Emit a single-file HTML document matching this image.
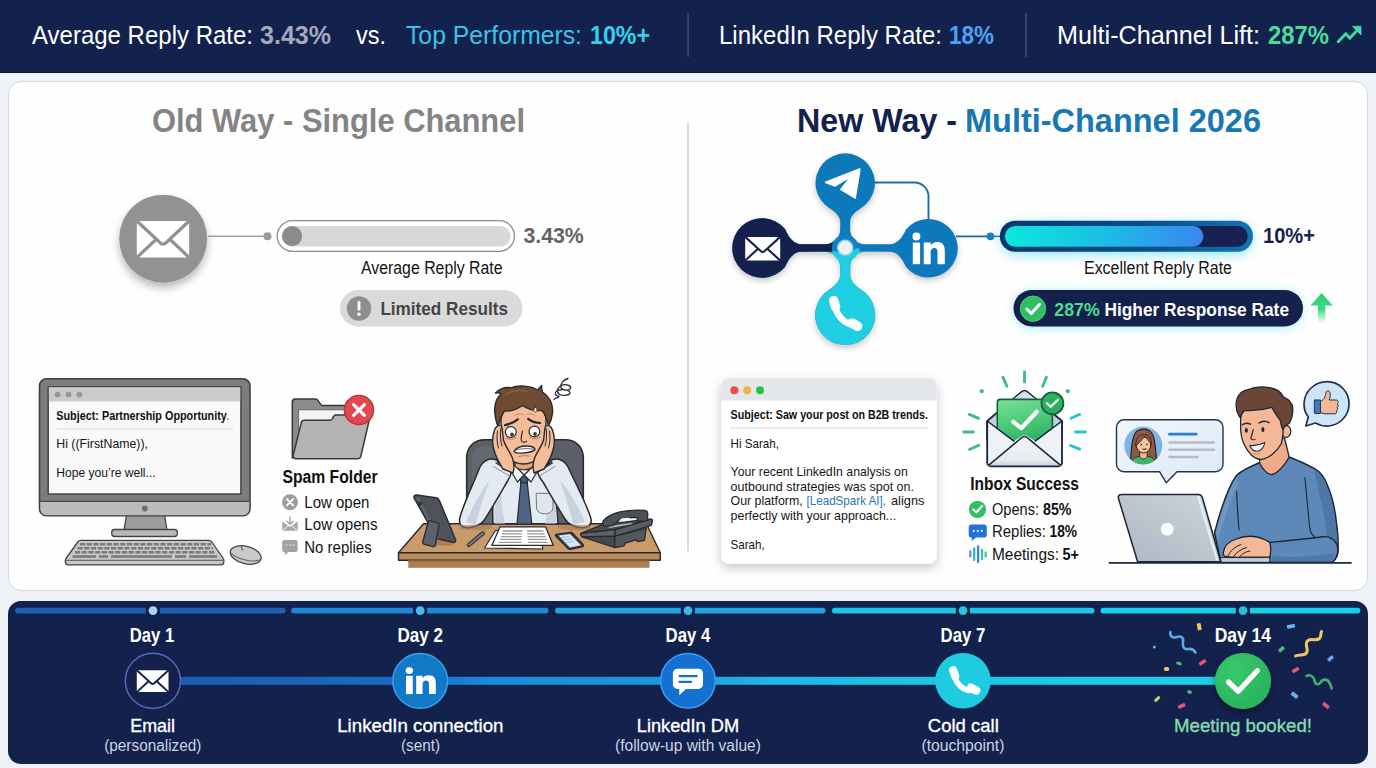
<!DOCTYPE html>
<html lang="en">
<head>
<meta charset="utf-8">
<title>Multi-Channel Outreach 2026</title>
<style>
html,body{margin:0;padding:0;}
body{width:1376px;height:768px;overflow:hidden;background:#eef1f5;font-family:"Liberation Sans",sans-serif;position:relative;}
#topbar{position:absolute;left:0;top:0;width:1376px;height:72px;background:#13214d;box-shadow:0 1px 0 #0a1233;}
#card{position:absolute;left:8px;top:81px;width:1358px;height:508px;background:#fefefe;border:1px solid #d3d9df;border-radius:13px;}
#timeline{position:absolute;left:8px;top:601px;width:1360px;height:163px;background:#13214d;border-radius:13px;}
#art{position:absolute;left:0;top:0;width:1376px;height:768px;}
text{font-family:"Liberation Sans",sans-serif;}
.b{font-weight:700;}
</style>
</head>
<body>
<div id="topbar"></div>
<div id="card"></div>
<div id="timeline"></div>
<svg id="art" width="1376" height="768" viewBox="0 0 1376 768">
<defs>
<filter id="sh1" x="-30%" y="-30%" width="160%" height="170%"><feGaussianBlur in="SourceAlpha" stdDeviation="4"/><feOffset dy="5"/><feComponentTransfer><feFuncA type="linear" slope="0.28"/></feComponentTransfer><feMerge><feMergeNode/><feMergeNode in="SourceGraphic"/></feMerge></filter>
<filter id="sh2" x="-30%" y="-30%" width="160%" height="170%"><feGaussianBlur in="SourceAlpha" stdDeviation="3"/><feOffset dy="3"/><feComponentTransfer><feFuncA type="linear" slope="0.22"/></feComponentTransfer><feMerge><feMergeNode/><feMergeNode in="SourceGraphic"/></feMerge></filter>
<filter id="sh3" x="-20%" y="-20%" width="140%" height="150%"><feGaussianBlur in="SourceAlpha" stdDeviation="5.500"/><feOffset dy="4"/><feComponentTransfer><feFuncA type="linear" slope="0.230"/></feComponentTransfer><feMerge><feMergeNode/><feMergeNode in="SourceGraphic"/></feMerge></filter>
<filter id="glow" x="-20%" y="-80%" width="140%" height="260%"><feGaussianBlur stdDeviation="6"/></filter>
<filter id="blur2"><feGaussianBlur stdDeviation="2"/></filter>
<linearGradient id="gfill" x1="0" x2="1" y1="0" y2="0"><stop offset="0" stop-color="#0ce8dc"/><stop offset="0.500" stop-color="#1cbde6"/><stop offset="1" stop-color="#3b86ef"/></linearGradient>
<linearGradient id="garrow" x1="0" x2="0" y1="0" y2="1"><stop offset="0" stop-color="#2ecc71"/><stop offset="0.55" stop-color="#3ddc84"/><stop offset="1" stop-color="#3ddc84" stop-opacity="0"/></linearGradient>
<linearGradient id="gcard" x1="0" x2="0.300" y1="0" y2="1"><stop offset="0" stop-color="#7be398"/><stop offset="1" stop-color="#27b05e"/></linearGradient>
<linearGradient id="genvb" x1="0" x2="0" y1="0" y2="1"><stop offset="0" stop-color="#f3f5f8"/><stop offset="0.800" stop-color="#e6eaef"/><stop offset="1" stop-color="#c9d3de"/></linearGradient>
<linearGradient id="glap" x1="0" x2="1" y1="1" y2="0"><stop offset="0" stop-color="#aeb8c3"/><stop offset="1" stop-color="#ccd3db"/></linearGradient>
<linearGradient id="gbub" x1="0" x2="1" y1="0" y2="1"><stop offset="0" stop-color="#f1f6fc"/><stop offset="1" stop-color="#dce9f8"/></linearGradient>
<clipPath id="cl-av"><circle cx="1143.300" cy="445.600" r="18.600"/></clipPath>
<linearGradient id="gconn" gradientUnits="userSpaceOnUse" x1="180" x2="1215" y1="0" y2="0"><stop offset="0" stop-color="#1c5cb0"/><stop offset="0.230" stop-color="#1a6cc4"/><stop offset="0.300" stop-color="#1b8ad8"/><stop offset="0.480" stop-color="#1e98de"/><stop offset="0.560" stop-color="#21b4e4"/><stop offset="0.750" stop-color="#1dc7e6"/><stop offset="1" stop-color="#1ccfe6"/></linearGradient>
<radialGradient id="ggreen" cx="0.350" cy="0.300" r="0.800"><stop offset="0" stop-color="#38c86f"/><stop offset="1" stop-color="#27b259"/></radialGradient>
<filter id="sh4" x="-30%" y="-30%" width="160%" height="170%"><feGaussianBlur in="SourceAlpha" stdDeviation="3"/><feOffset dy="3"/><feComponentTransfer><feFuncA type="linear" slope="0.450"/></feComponentTransfer><feMerge><feMergeNode/><feMergeNode in="SourceGraphic"/></feMerge></filter>
<linearGradient id="gring" x1="0" x2="1" y1="0" y2="0"><stop offset="0" stop-color="#07356b"/><stop offset="0.600" stop-color="#0b4f8c"/><stop offset="1" stop-color="#1274b2"/></linearGradient>
</defs>
<!--TOPBAR-->
<g id="g-topbar" font-size="25.600">
<text x="32" y="44.300" fill="#fff" textLength="221" lengthAdjust="spacingAndGlyphs">Average Reply Rate:</text>
<text x="260" y="44.300" fill="#a4aabb" class="b" textLength="71" lengthAdjust="spacingAndGlyphs">3.43%</text>
<text x="356" y="44.300" fill="#fff" textLength="30" lengthAdjust="spacingAndGlyphs">vs.</text>
<text x="406" y="44.300" fill="#3cc3e6" textLength="176" lengthAdjust="spacingAndGlyphs">Top Performers:</text>
<text x="590" y="44.300" fill="#2fd5f0" class="b" textLength="60" lengthAdjust="spacingAndGlyphs">10%+</text>
<rect x="687.5" y="13" width="1.2" height="44" fill="#3d5a8c"/>
<text x="719" y="44.300" fill="#fff" textLength="223" lengthAdjust="spacingAndGlyphs">LinkedIn Reply Rate:</text>
<text x="949" y="44.300" fill="#4ba4f2" class="b" textLength="45" lengthAdjust="spacingAndGlyphs">18%</text>
<rect x="1025.5" y="13" width="1.2" height="44" fill="#3d5a8c"/>
<text x="1057" y="44.300" fill="#fff" textLength="203" lengthAdjust="spacingAndGlyphs">Multi-Channel Lift:</text>
<text x="1268" y="44.300" fill="#4ade9a" class="b" textLength="61" lengthAdjust="spacingAndGlyphs">287%</text>
<path d="M1338.200 41.700 L1345.700 33.800 L1349.800 38.200 L1357 30.400" fill="none" stroke="#3fdba0" stroke-width="2.900" stroke-linecap="round" stroke-linejoin="miter"/><path d="M1352.400 26.300 L1361 26.300 L1361 35 Z" fill="#3fdba0" stroke="#3fdba0" stroke-width="0.800" stroke-linejoin="round"/>
</g>
<!--HEADINGS-->
<g id="g-head" font-size="32.600" class="b">
<text x="152" y="131.800" fill="#848484" textLength="373" lengthAdjust="spacingAndGlyphs">Old Way - Single Channel</text>
<text x="797" y="131.800" fill="#13214d" textLength="160" lengthAdjust="spacingAndGlyphs">New Way -</text>
<text x="965" y="131.800" fill="#1878b4" textLength="296" lengthAdjust="spacingAndGlyphs">Multi-Channel 2026</text>
</g>
<rect x="687" y="122.500" width="2" height="429" fill="#dcdcde"/>
<!--NETWORK-->
<g id="g-net">
<path d="M874 182.500 L914.500 182.500 A14 14 0 0 1 928.500 196.500 L928.500 220" fill="none" stroke="#1b70aa" stroke-width="1.900"/>
<rect x="956" y="235.500" width="36" height="1.800" fill="#126fae"/>
<clipPath id="cl-left"><path d="M720 200 L805 200 L805 232 L835 232 L835 264 L805 264 L805 300 L720 300 Z"/></clipPath>
<clipPath id="cl-bot"><path d="M831 251.700 L838 252.500 L852 250 L859 247.800 L860 251.600 L880 251.600 L880 350 L810 350 L810 251.700 Z"/></clipPath>
<path d="M830.300 208.750 C835 212 840.2 216 840.2 222 L840.2 229.20 C840.2 237.48 833.48 244.2 825.20 244.2 L801 244.2 C794 244.2 789 238 785 229 A29.800 29.800 0 1 0 785 267 C789 258 794 251.8 801 251.8 L825.20 251.8 C833.48 251.8 840.2 258.52 840.2 266.80 L840.2 275 C840.2 281 835 285.500 830.300 289 A30 30 0 1 0 860.100 289 C855.400 285.500 850.2 281 850.2 275 L850.2 266.80 C850.2 258.52 856.92 251.8 865.20 251.8 L890 251.8 C897 251.8 902 258 906 267 A29.300 29.300 0 1 0 906 229.500 C902 238 897 244.2 890 244.2 L865.20 244.2 C856.92 244.2 850.2 237.48 850.2 229.20 L850.2 222 C850.2 216 855.400 212 860.100 208.750 A29.700 29.700 0 1 0 830.300 208.750 Z" fill="#0f78ba" filter="url(#sh2)"/>
<path d="M830.300 208.750 C835 212 840.2 216 840.2 222 L840.2 229.20 C840.2 237.48 833.48 244.2 825.20 244.2 L801 244.2 C794 244.2 789 238 785 229 A29.800 29.800 0 1 0 785 267 C789 258 794 251.8 801 251.8 L825.20 251.8 C833.48 251.8 840.2 258.52 840.2 266.80 L840.2 275 C840.2 281 835 285.500 830.300 289 A30 30 0 1 0 860.100 289 C855.400 285.500 850.2 281 850.2 275 L850.2 266.80 C850.2 258.52 856.92 251.8 865.20 251.8 L890 251.8 C897 251.8 902 258 906 267 A29.300 29.300 0 1 0 906 229.500 C902 238 897 244.2 890 244.2 L865.20 244.2 C856.92 244.2 850.2 237.48 850.2 229.20 L850.2 222 C850.2 216 855.400 212 860.100 208.750 A29.700 29.700 0 1 0 830.300 208.750 Z" fill="#14214d" clip-path="url(#cl-left)"/>

<path d="M830.300 208.750 C835 212 840.2 216 840.2 222 L840.2 229.20 C840.2 237.48 833.48 244.2 825.20 244.2 L801 244.2 C794 244.2 789 238 785 229 A29.800 29.800 0 1 0 785 267 C789 258 794 251.8 801 251.8 L825.20 251.8 C833.48 251.8 840.2 258.52 840.2 266.80 L840.2 275 C840.2 281 835 285.500 830.300 289 A30 30 0 1 0 860.100 289 C855.400 285.500 850.2 281 850.2 275 L850.2 266.80 C850.2 258.52 856.92 251.8 865.20 251.8 L890 251.8 C897 251.8 902 258 906 267 A29.300 29.300 0 1 0 906 229.500 C902 238 897 244.2 890 244.2 L865.20 244.2 C856.92 244.2 850.2 237.48 850.2 229.20 L850.2 222 C850.2 216 855.400 212 860.100 208.750 A29.700 29.700 0 1 0 830.300 208.750 Z" fill="#1fcfe1" clip-path="url(#cl-bot)"/>
<circle cx="845.200" cy="247.800" r="13.300" fill="#1280c2"/>
<path d="M832.100 250.500 L838 252.500 L852 250.500 L858.500 247.800 A13.300 13.300 0 0 1 832.100 250.500 Z" fill="#1fcfe1"/>
<circle cx="845.200" cy="247.800" r="8.300" fill="#8fd3ea"/>
<circle cx="845.200" cy="247.800" r="6.800" fill="#eef2f5"/>
<!-- plane -->
<path d="M859.700 169.300 L825.800 182.400 L835.200 185.750 L851.900 175.500 L841.250 189.400 L855 197.700 Z" fill="#fff" stroke="#fff" stroke-width="2" stroke-linejoin="round"/>
<!-- mail -->
<rect x="745.200" y="236.900" width="35" height="23.500" rx="1" fill="#fff"/>
<path d="M744.900 236.600 L761 251.300 a2.600 2.600 0 0 0 3.400 0 L780.500 236.600 M744.900 260.700 L757.800 249 M780.500 260.700 L767.600 249" fill="none" stroke="#14214d" stroke-width="2.100" stroke-linejoin="round"/>
<!-- in -->
<g fill="#fff"><circle cx="916.400" cy="236.400" r="4"/><rect x="912.800" y="242.600" width="7.300" height="21.600"/>
<path d="M923.750 242.600 h6.900 v2.900 c1.300 -2.200 3.600 -3.500 6.600 -3.500 c5.300 0 7.550 3.300 7.550 8.700 v13.500 h-7.300 v-12 c0 -2.600 -0.900 -4.200 -3.200 -4.200 c-2.400 0 -3.650 1.700 -3.650 4.400 v11.800 h-6.900z"/></g>
<!-- phone -->
<g fill="none" stroke="#fff" stroke-linecap="round" stroke-linejoin="round"><path d="M833.700 300.500 L835.600 306.800" stroke-width="9.400"/><path d="M851.800 323 L857.600 326.200" stroke-width="9.600"/><path d="M834.800 305 C836.500 315.500 844.500 324.500 855.500 325.500" stroke-width="6.400"/></g>
</g>
<!--OLDBAR-->
<g id="g-oldbar">
<circle cx="163.200" cy="238.700" r="44" fill="#929292" filter="url(#sh1)"/>
<rect x="136.800" y="221" width="52.400" height="36.400" rx="1.500" fill="#fff"/>
<path d="M136.300 220.500 L160.500 243 a4 4 0 0 0 5.200 0 L189.700 220.500 M136.300 258 L155.500 240 M189.700 258 L170.700 240" fill="none" stroke="#929292" stroke-width="3.200" stroke-linejoin="round"/>
<circle cx="163.200" cy="238.700" r="44" fill="none" stroke="none"/>
<rect x="208" y="235.600" width="57" height="1.400" fill="#9a9a9a"/>
<circle cx="267.500" cy="236.300" r="4" fill="#9a9a9a"/>
<rect x="277.200" y="220.700" width="237.300" height="30.600" rx="15.300" fill="#fff" stroke="#8d8d8d" stroke-width="1.300"/>
<rect x="282" y="226" width="228.500" height="20.400" rx="10.200" fill="#d8d8d8"/>
<circle cx="292.100" cy="236.200" r="10.100" fill="#8b8b8b"/>
<text x="523.400" y="243.400" font-size="22" class="b" fill="#646464" textLength="60.400" lengthAdjust="spacingAndGlyphs">3.43%</text>
<text x="361" y="273.700" font-size="17.500" fill="#141414" textLength="141.500" lengthAdjust="spacingAndGlyphs">Average Reply Rate</text>
<rect x="340" y="290" width="182.500" height="36.600" rx="18.300" fill="#dadada"/>
<circle cx="359" cy="308.500" r="12.200" fill="#8e8e8e"/>
<rect x="357.600" y="301" width="2.800" height="9.500" rx="1.200" fill="#fff"/>
<circle cx="359" cy="314.300" r="1.700" fill="#fff"/>
<text x="380.400" y="315" font-size="18.500" class="b" fill="#454545" textLength="127.600" lengthAdjust="spacingAndGlyphs">Limited Results</text>
</g>
<!--NEWBAR-->
<g id="g-newbar">
<rect x="990" y="235.600" width="12" height="1.500" fill="#126fae"/>
<circle cx="990.500" cy="236.300" r="3.900" fill="#1a80bf"/>
<rect x="1001" y="223.500" width="251" height="31" rx="15.500" fill="#3fd6ee" opacity="0.600" filter="url(#glow)"/>
<rect x="999.800" y="220.700" width="253.200" height="31" rx="15.500" fill="url(#gring)"/>
<rect x="1004.900" y="225.900" width="242.800" height="20.800" rx="10.400" fill="#17204f"/>
<rect x="1004.900" y="225.900" width="198.500" height="20.800" rx="10.400" fill="url(#gfill)"/>
<text x="1263" y="243.400" font-size="22" class="b" fill="#14214c" textLength="52" lengthAdjust="spacingAndGlyphs">10%+</text>
<text x="1084" y="274.400" font-size="17.500" fill="#141414" textLength="148" lengthAdjust="spacingAndGlyphs">Excellent Reply Rate</text>
<rect x="1015" y="293" width="286" height="33" rx="16.500" fill="#22d3ee" opacity="0.550" filter="url(#glow)"/>
<rect x="1013.500" y="290" width="289.500" height="36.400" rx="18.200" fill="#14214d"/>
<circle cx="1033" cy="308.700" r="12.700" fill="#2fbf63"/>
<circle cx="1033" cy="308.700" r="12.700" fill="none" stroke="#5fe08f" stroke-width="1" opacity="0.700"/>
<path d="M1026.800 309 L1031.300 313.400 L1039.600 304.300" fill="none" stroke="#fff" stroke-width="3" stroke-linecap="round" stroke-linejoin="round"/>
<text x="1054.300" y="315.500" font-size="18.500" class="b" fill="#4ade8f" textLength="45.400" lengthAdjust="spacingAndGlyphs">287%</text>
<text x="1104.500" y="315.500" font-size="18.500" class="b" fill="#fff" textLength="184.500" lengthAdjust="spacingAndGlyphs">Higher Response Rate</text>
<path d="M1321.600 293 L1332.800 305.500 L1325.300 305.500 L1325.300 323 L1317.900 323 L1317.900 305.500 L1310.400 305.500z" fill="url(#garrow)"/>
</g>
<!--MONITOR-->
<g id="g-monitor">
<path d="M126.500 515 L164.500 515 L167 530 L124 530 Z" fill="#9c9c9c" stroke="#444" stroke-width="1.300" stroke-linejoin="round"/>
<rect x="111.700" y="529.500" width="65.700" height="7" rx="3" fill="#b9b9b9" stroke="#444" stroke-width="1.300"/>
<rect x="39.500" y="378.800" width="210.500" height="137" rx="7" fill="#7d7d7d" stroke="#3f3f3f" stroke-width="1.600"/>
<path d="M40.300 501.300 L249.200 501.300 L249.200 509 a6.200 6.200 0 0 1 -6.200 6.200 L46.500 515.200 a6.200 6.200 0 0 1 -6.200 -6.200 Z" fill="#bcbcbc"/>
<path d="M40.300 501.300 L249.200 501.300" stroke="#4a4a4a" stroke-width="1.200"/>
<circle cx="144.800" cy="508.500" r="2.900" fill="#6e6e6e"/>
<rect x="48.200" y="386.800" width="192.700" height="107.200" fill="#fafafa" stroke="#3f3f3f" stroke-width="1.400"/>
<rect x="48.900" y="387.500" width="191.300" height="14" fill="#cbcbcb"/>
<circle cx="57.600" cy="394.600" r="2.900" fill="#979797"/><circle cx="68.500" cy="394.600" r="2.900" fill="#979797"/><circle cx="79.400" cy="394.600" r="2.900" fill="#979797"/>
<text x="56.3" y="419.7" font-size="12.7" fill="#101010" class="b" textLength="170.5" lengthAdjust="spacingAndGlyphs">Subject: Partnership Opportunity</text>
<rect x="227.300" y="418.200" width="1.400" height="1.500" fill="#777"/>
<rect x="56.300" y="428.400" width="176.700" height="1" fill="#d4d4d4"/>
<text x="56.3" y="447.7" font-size="13.2" fill="#151515" textLength="91.7" lengthAdjust="spacingAndGlyphs">Hi ((FirstName)),</text>
<text x="56.3" y="477" font-size="13.2" fill="#151515" textLength="99.3" lengthAdjust="spacingAndGlyphs">Hope you’re well...</text>
<path d="M81 540.400 L208.600 540.400 a4 4 0 0 1 3.200 1.600 L223.300 558.500 a3 3 0 0 1 0.500 1.700 L223.800 562 a2.800 2.800 0 0 1 -2.800 2.800 L68.200 564.800 a2.800 2.800 0 0 1 -2.800 -2.800 L65.400 560.200 a3 3 0 0 1 0.500 -1.700 L77.800 542 a4 4 0 0 1 3.200 -1.600 Z" fill="#c6c6c6" stroke="#444" stroke-width="1.300" stroke-linejoin="round"/>
<path d="M66 560.300 L223.200 560.300" stroke="#555" stroke-width="1"/>
<g stroke="#7a7a7a" stroke-width="2.500" stroke-dasharray="5.200 1.500" fill="none"><path d="M80 544.300 L211 544.300"/><path d="M77.500 548.300 L213 548.300"/><path d="M75 552.300 L215 552.300"/></g>
<g stroke="#7a7a7a" stroke-width="2.600" fill="none"><path d="M72.500 556.500 L96 556.500 M99 556.500 L108 556.500 M111 556.500 L172 556.500 M175 556.500 L186 556.500 M189 556.500 L217 556.500"/></g>
<g transform="rotate(14 245.700 555)"><ellipse cx="245.700" cy="555" rx="15.800" ry="8.700" fill="#c9c9c9" stroke="#444" stroke-width="1.300"/><path d="M231 556.800 C238 561 253 561 260.500 556.500" fill="none" stroke="#666" stroke-width="1"/><path d="M239.500 547.800 L241.500 551.500" stroke="#666" stroke-width="1.200"/></g>
</g>
<!--SPAM-->
<g id="g-spam">
<path d="M292.300 402 a3 3 0 0 1 3 -3 L315.500 399 a3 3 0 0 1 2.400 1.300 L320.500 404.200 a3 3 0 0 0 2.400 1.300 L366.600 405.500 a3 3 0 0 1 3 3 L368.500 418 L292.300 458 Z" fill="#8b8b8b" stroke="#383838" stroke-width="1.500" stroke-linejoin="round"/>
<path d="M298.600 409.800 L352 409.800 L352 440 L298.600 440 Z" fill="#f4f4f4" stroke="#555" stroke-width="0.800"/>
<path d="M293.200 455.300 L301.300 422.600 a3.200 3.200 0 0 1 3.100 -2.400 L329.800 420.200 a3 3 0 0 0 2.300 -1.100 L333.800 416.200 a3 3 0 0 1 2.300 -1.100 L367 415.100 a2.700 2.700 0 0 1 2.600 3.400 L360.800 456.400 a3.200 3.200 0 0 1 -3.100 2.400 L296 458.800 a2.800 2.800 0 0 1 -2.800 -3.500 Z" fill="#b4b4b4" stroke="#383838" stroke-width="1.500" stroke-linejoin="round"/>
<circle cx="359" cy="410" r="14.600" fill="#e4474e" stroke="#b5343b" stroke-width="1.400"/>
<path d="M353.600 404.600 L364.400 415.400 M364.400 404.600 L353.600 415.400" stroke="#fff" stroke-width="3.100" stroke-linecap="round"/>
<text x="282.5" y="482.9" font-size="17.5" fill="#101010" class="b" textLength="95.1" lengthAdjust="spacingAndGlyphs">Spam Folder</text>
<circle cx="290" cy="502.200" r="8" fill="#9d9d9d"/>
<path d="M286.900 499.100 L293.100 505.300 M293.100 499.100 L286.900 505.300" stroke="#fff" stroke-width="1.900" stroke-linecap="round"/>
<text x="304.3" y="508" font-size="16.2" fill="#151515" textLength="65.1" lengthAdjust="spacingAndGlyphs">Low open</text>
<path d="M282.200 521.500 L290 527 L297.700 521.500 L297.700 530.800 L282.200 530.800 Z" fill="#a8a8a8"/>
<path d="M282.200 530.800 L288.200 525.700 M297.700 530.800 L291.800 525.700" stroke="#fff" stroke-width="0.900"/>
<path d="M290 516.800 L290 524 M287 521.300 L290 524.300 L293 521.300" fill="none" stroke="#a0a0a0" stroke-width="1.300" stroke-linecap="round" stroke-linejoin="round"/>
<text x="304.3" y="530.1" font-size="16.2" fill="#151515" textLength="73.3" lengthAdjust="spacingAndGlyphs">Low opens</text>
<path d="M284.700 540.100 h10.500 a2.500 2.500 0 0 1 2.500 2.500 v6.800 a2.500 2.500 0 0 1 -2.500 2.500 h-6.700 l-3.700 3.400 v-3.400 h-0.100 a2.500 2.500 0 0 1 -2.500 -2.500 v-6.800 a2.500 2.500 0 0 1 2.500 -2.500z" fill="#a2a2a2"/>
<path d="M285.500 545.200 h2 M289 545.200 h2 M292.500 545.200 h2" stroke="#d6d6d6" stroke-width="1.200"/>
<text x="304.3" y="552.6" font-size="16.2" fill="#151515" textLength="67.4" lengthAdjust="spacingAndGlyphs">No replies</text>
</g>
<!--DESKBASE-->
<g id="g-deskbase" stroke-linejoin="round">
<path d="M423.600 523.700 L646.400 523.700 L660.300 552.800 L398.500 552.800 Z" fill="#c99b6b" stroke="#2a2a2e" stroke-width="1.400"/>
<rect x="398.500" y="552.800" width="261.800" height="7.400" fill="#b98a5a" stroke="#2a2a2e" stroke-width="1.400"/>
<rect x="408.300" y="560.200" width="241.200" height="7.600" fill="#ad7f52"/>
<path d="M408.300 560.900 L649.500 560.900" stroke="#7a5535" stroke-width="1"/>
</g>
<!--DESKMAN-->
<g id="g-deskman" stroke-linejoin="round" stroke-linecap="round">
<path d="M466.700 523.700 L466.700 458 C466.700 447 474 439.800 485 439.800 L565 439.800 C576 439.800 583.300 447 583.300 458 L583.300 523.700 Z" fill="#5b6067" stroke="#2a2a2e" stroke-width="1.600"/>
<path d="M472 523.700 L472 460 C472 451 477 445.500 486 445.500 L500 445.500 L500 523.700 Z" fill="#6b7078" opacity="0.600"/>
<path d="M493 523.700 C492 505 493 485 500 468 L512 463 L536 463 L548 468 C555 485 557 505 558 523.700 Z" fill="#e4eaf1" stroke="#2a2a2e" stroke-width="1.500"/>
<path d="M495 523.700 C494 505 496 490 501 478 C500 495 502 510 505 523.700 Z" fill="#c3cedb" opacity="0.800"/>
<path d="M556 523.700 C557 505 555 490 549 478 C550 495 548 510 545 523.700 Z" fill="#c3cedb" opacity="0.800"/>
<path d="M536.500 493.300 L553 493.300 L553 507.500 C553 511.500 549 513.800 544.800 513.800 C540.500 513.800 536.500 511.500 536.500 507.500 Z" fill="#dfe6ee" stroke="#6a7480" stroke-width="1"/>
<path d="M519.500 474.500 L528.800 474.500 L527.300 483 L520.800 483 Z" fill="#435879" stroke="#2a2a2e" stroke-width="1.200"/>
<path d="M520.800 483 L527.300 483 L531.800 524 L517 524 Z" fill="#4d6485" stroke="#2a2a2e" stroke-width="1.200"/>
<path d="M513 463.500 L524 475 L517.500 482 L509.500 468.500 Z" fill="#f3f6fa" stroke="#2a2a2e" stroke-width="1.200"/>
<path d="M535.500 463.500 L524.300 475 L531 482 L539 468.500 Z" fill="#f3f6fa" stroke="#2a2a2e" stroke-width="1.200"/>
<path d="M504 466 C497 457 486 456 480 467 C474 482 463 505 459.800 518 C458 526 464 528.500 470 527.500 C477 526.500 482 524 485 519 C492 508 500 494 507 482 C510 477 511 474 511.500 471.500 L497.500 462 Z" fill="#e4eaf1" stroke="#2a2a2e" stroke-width="1.500"/>
<path d="M466 522 C472 508 480 492 490 480 C484 496 478 512 476 525 Z" fill="#c3cedb" opacity="0.850"/>
<path d="M496 463 L512 472.500" fill="none" stroke="#2a2a2e" stroke-width="1.200"/>
<path d="M493.500 466.500 L509.800 476.200" fill="none" stroke="#7f8a97" stroke-width="0.900"/>
<path d="M544 466 C551 457 562 456 568 467 C575 482 587 505 590.800 518 C593 526 586 528.500 580 527.500 C573 526.500 568 524 565 519 C558 508 550 494 543 482 C539 477 538 474 537.500 471.500 L551.500 462 Z" fill="#e4eaf1" stroke="#2a2a2e" stroke-width="1.500"/>
<path d="M585 522 C579 508 570 492 560 480 C565 496 571 512 573 525 Z" fill="#c3cedb" opacity="0.850"/>
<path d="M552.500 463 L537 472.500" fill="none" stroke="#2a2a2e" stroke-width="1.200"/>
<path d="M555 466.500 L539 476.200" fill="none" stroke="#7f8a97" stroke-width="0.900"/>
<path d="M515 455 L515 466 C519 471 529 471 533.500 466 L533.500 455 Z" fill="#e9a57c" stroke="#2a2a2e" stroke-width="1.200"/>
<path d="M501 420 C501 408 508 403 523.500 403 C539 403 546 408 546 420 L545.500 440 C544.500 455 535 464 523.500 464 C512 464 502.500 455 501.500 440 Z" fill="#f4bc98" stroke="#2a2a2e" stroke-width="1.400"/>
<path d="M497 424 C493 412 494 400 501 394 C499.500 392.500 497.500 392.500 495.500 393 C500 388.500 506 387 511 387.800 C519 384.500 531 386 538 390 C539.500 388 540.500 386.500 541.500 385.500 C541.500 388 541.800 390 542.500 392 C549 396 553.500 404 552.500 413 C552 419 550 423 548.500 425.500 C547 419 545 414 542 410.500 C536 411 528 409.500 522.500 405.500 C517 409.500 510 411.500 504.500 411 C502 414.500 500 419 498.500 425.500 Z" fill="#6f4b33" stroke="#2a2a2e" stroke-width="1.400"/>
<path d="M506 394 C512 390.500 520 390 527 391.500" fill="none" stroke="#8c6446" stroke-width="1.200"/>
<path d="M494.500 430 C492.500 436 492 444 494 450 C496 458 500 464 503 469 L513 473 C514.500 468 514 462 512 457 C509.500 451 505 446 503.500 440 C502.500 436 503 430 501.500 426 C499 424.500 496 426 494.500 430 Z" fill="#f4bc98" stroke="#2a2a2e" stroke-width="1.400"/>
<path d="M497.500 431 C496.500 437 497 443 498.500 448 M500.800 428.500 C500 435 500.500 441 502 446" fill="none" stroke="#2a2a2e" stroke-width="1"/>
<path d="M552.500 430 C554.500 436 555 444 553 450 C551 458 547 464 544 469 L534 473 C532.500 468 533 462 535 457 C537.500 451 542 446 543.500 440 C544.500 436 544 430 545.500 426 C548 424.500 551 426 552.500 430 Z" fill="#f4bc98" stroke="#2a2a2e" stroke-width="1.400"/>
<path d="M549.500 431 C550.500 437 550 443 548.500 448 M546.200 428.500 C547 435 546.500 441 545 446" fill="none" stroke="#2a2a2e" stroke-width="1"/>
<circle cx="510.800" cy="432" r="5.400" fill="#fff" stroke="#2a2a2e" stroke-width="1.200"/><circle cx="534.400" cy="431.500" r="5.400" fill="#fff" stroke="#2a2a2e" stroke-width="1.200"/>
<circle cx="512" cy="434.500" r="1.900" fill="#3a3a3a"/><circle cx="535" cy="434" r="1.900" fill="#3a3a3a"/>
<path d="M506 437.500 C509 439.500 513 439.500 516 437.500 M530 437 C533 439 537 439 540 437" fill="none" stroke="#b98a7a" stroke-width="1.300"/>
<path d="M505 425.200 C508.500 424.500 514 422.500 517.800 419.300 M528.200 418.800 C531.500 421.500 536 422.800 540.200 423" fill="none" stroke="#2a2a2e" stroke-width="2.200"/>
<path d="M515 415 C518 413.500 521 413.500 523 414.500 M527 414.500 C530 413.500 533 414 535 415.500" fill="none" stroke="#c98b68" stroke-width="1"/>
<path d="M522.500 431 C521.500 436 520.500 439 521.500 441 C522.500 442.500 525 442.500 526.500 441.500" fill="none" stroke="#2a2a2e" stroke-width="1.200"/>
<path d="M514 451.500 C516 447.500 522 446 527 446 C531 446 534 447 535 449 C534.500 451.500 531 452 527 452.500 C522 453 517 454.500 514 451.500 Z" fill="#fff" stroke="#2a2a2e" stroke-width="1.300"/>
<path d="M516 449.800 C521 448.500 529 448.200 534 449.200" fill="none" stroke="#2a2a2e" stroke-width="0.700"/>
<path d="M519 456.500 C522 455.500 526 455.500 529 456" fill="none" stroke="#b5734f" stroke-width="1"/>
<path d="M535.500 407 C536.800 409 537.500 410.300 536.500 411.600 C535.500 412.600 533.800 412 533.800 410.500 C533.800 409.300 534.800 408.300 535.500 407 Z" fill="#fff" stroke="#2a2a2e" stroke-width="0.800"/>
<path d="M554 399.500 C555.500 397 557.500 398.500 559 396.500 C554.500 395.500 554 392 558 390.500 C562 389 569 389.500 570 392.500 C571 395 563 396.500 559.500 394.500 C556 392.500 557 387.500 561.500 385.500 C566 383.500 571.500 385.500 570.500 388.500 C569.500 391 562 390.500 561 387.500 C560 384 563.500 379.500 568 378.500" fill="none" stroke="#2a2a2e" stroke-width="1.300"/>
</g>
<!--DESK-->
<g id="g-desk" stroke-linejoin="round" stroke-linecap="round">
<path d="M460 528.500 C470 531 485 531 492 528 L492 525 L460 525 Z" fill="#a77a50" opacity="0.600"/>
<path d="M590 528.500 C580 531 565 531 558 528 L558 525 L590 525 Z" fill="#a77a50" opacity="0.600"/>
<path d="M425 545.500 L452 545.500 L457 541.500 L440 539 Z" fill="#9a7450" opacity="0.700"/>
<path d="M414 497.800 C413.500 496 414.800 494.800 416.500 495 L436 497.800 C437.800 498 438.800 499 439.500 500.700 L455.500 539.500 C456.200 541.300 455 542.500 453.200 542.200 L438.500 539 C437 538.600 436.200 537.800 435.700 536.500 Z" fill="#4f5359" stroke="#2a2a2e" stroke-width="1.400"/>
<path d="M416.300 497.600 L419.300 497.900 L439.500 539 L436.500 538 Z" fill="#6a6f76" opacity="0.700"/>
<circle cx="420" cy="503.500" r="1.700" fill="#3a3d42" stroke="#2a2a2e" stroke-width="0.700"/>
<path d="M430.500 520.800 L437.800 523 C438.800 523.400 439.200 524.200 439 525.200 L435.300 545.300 C435 546.500 434.200 547 433 546.700 L424 544.200 C422.800 543.800 422.400 543 422.700 541.800 L428.200 522.300 C428.600 521 429.400 520.500 430.500 520.800 Z" fill="#5d6268" stroke="#2a2a2e" stroke-width="1.300"/>
<path d="M468.800 545 L482.800 533.400" stroke="#2a2a2e" stroke-width="4.200"/>
<path d="M468.800 545 L482.800 533.400" stroke="#77797d" stroke-width="2.200"/>
<path d="M495.500 530.500 L540 530.500 L542.800 549 L484.500 548 Z" fill="#fbfbfb" stroke="#2a2a2e" stroke-width="1.200"/>
<path d="M500 526.800 L545.500 526.800 L553.300 545.400 L491.800 545.400 Z" fill="#fff" stroke="#2a2a2e" stroke-width="1.300"/>
<g stroke="#9a9a9a" stroke-width="1.300"><path d="M503.500 531 L522 531 M502.500 533.800 L521.500 533.800 M501.500 536.600 L521.300 536.600 M500.500 539.400 L521 539.400 M499 542.300 L521 542.300"/><path d="M527.500 531 L543 531 M527.700 533.800 L544.200 533.800 M528 536.600 L545.300 536.600 M528.200 539.400 L546.500 539.400 M528.500 542.300 L547.500 542.300"/></g>
<path d="M556.300 534.300 L570.500 532.400 C571.500 532.300 572.200 532.600 572.900 533.300 L583.200 544.500 C584 545.500 583.700 546.400 582.500 546.800 L570.200 549.300 C569.200 549.500 568.400 549.200 567.700 548.400 L555.700 536.200 C554.900 535.200 555.200 534.500 556.300 534.300 Z" fill="#3d4046" stroke="#2a2a2e" stroke-width="1.200"/>
<path d="M558.500 535.500 L570 533.900 L581 545.300 L569.800 547.600 Z" fill="#d8e6f3"/>
<path d="M562 537.500 L569 536.500 M564 540 L572 538.800 M566.500 542.500 L573 541.500" stroke="#9fc0e0" stroke-width="1.100"/>
<path d="M614.800 536 L646.100 528.400 L644.500 540.300 L637.700 541.500 L636 539.800 L625 543.200 L624.100 545.800 L614.400 547.500 Z" fill="#52575d" stroke="#2a2a2e" stroke-width="1.300"/>
<path d="M582 536.800 L614.800 536 L614.400 547.500 Z" fill="#464a50" stroke="#2a2a2e" stroke-width="1.300"/>
<path d="M614.800 529.700 L650.400 519.100 C652 518.800 652.600 519.800 652.400 521 L651.800 524 C651.600 525 651 525.500 650 525.800 L614.800 536 Z" fill="#585d63" stroke="#2a2a2e" stroke-width="1.300"/>
<path d="M581.500 533.200 C580.300 533.600 580.300 535.500 581.500 536.300 L582 536.800 L614.800 536 L614.800 529.700 Z" fill="#5e6369" stroke="#2a2a2e" stroke-width="1.300"/>
<path d="M581.500 533.200 L603.400 524.200 L650.400 519.100 L614.800 529.700 Z" fill="#474b51" stroke="#2a2a2e" stroke-width="1.300"/>
<path d="M607.200 526.600 L630.900 522.900 L633 524 L609.500 528 Z" fill="#b4b8be"/>
<path d="M602.600 522.300 C604.500 518 612 513.500 620 511.800 C628 510.200 638 509.800 644.500 510.300 C647.300 510.500 647.900 512.300 647.800 514.300 L647.500 518.700 C647.400 520 646.600 520.700 645.200 520.900 L639.500 521.500 C638 521.600 637.300 520.700 637.200 519.300 L637 517.600 C631 517.200 624 518 619 520 L615 523.800 C613.500 525.300 610.500 526.300 607 526.300 C604 526.300 602 524.800 602.600 522.300 Z" fill="#4d5157" stroke="#2a2a2e" stroke-width="1.300"/>
<ellipse cx="625.200" cy="519.600" rx="5.300" ry="1.700" fill="#f4f4f4" transform="rotate(-6 625.200 519.600)"/>
</g>
<!--EMAILWIN-->
<g id="g-emailwin">
<rect x="721.300" y="378" width="215.300" height="185.800" rx="8" fill="#fff" filter="url(#sh3)"/>
<path d="M721.300 400.600 L721.300 386 a8 8 0 0 1 8 -8 L928.600 378 a8 8 0 0 1 8 8 L936.600 400.600 Z" fill="#e3e6ea"/>
<circle cx="734.400" cy="390.300" r="4" fill="#ee4b4b"/><circle cx="747.200" cy="390.300" r="4" fill="#f4b13e"/><circle cx="760" cy="390.300" r="4" fill="#27c24c"/>
<text x="730.6" y="419.4" font-size="12.6" fill="#101010" class="b" textLength="197.4" lengthAdjust="spacingAndGlyphs">Subject: Saw your post on B2B trends.</text>
<rect x="730.600" y="427.600" width="197.400" height="1" fill="#d5d8dc"/>
<text x="730.6" y="447.5" font-size="13.2" fill="#151515" textLength="48.4" lengthAdjust="spacingAndGlyphs">Hi Sarah,</text>
<text x="730.6" y="476.3" font-size="13.2" fill="#151515" textLength="177.2" lengthAdjust="spacingAndGlyphs">Your recent LinkedIn analysis on</text>
<text x="730.6" y="490.7" font-size="13.2" fill="#151515" textLength="183.4" lengthAdjust="spacingAndGlyphs">outbound strategies was spot on.</text>
<text x="730.6" y="505.3" font-size="13.2" fill="#151515" textLength="72" lengthAdjust="spacingAndGlyphs">Our platform,</text>
<text x="806.5" y="505.3" font-size="13.2" fill="#2a78b5" textLength="79.5" lengthAdjust="spacingAndGlyphs">[LeadSpark AI],</text>
<text x="891" y="505.3" font-size="13.2" fill="#151515" textLength="33.4" lengthAdjust="spacingAndGlyphs">aligns</text>
<text x="730.6" y="520" font-size="13.2" fill="#151515" textLength="165.6" lengthAdjust="spacingAndGlyphs">perfectly with your approach...</text>
<text x="730.6" y="549" font-size="13.2" fill="#151515" textLength="34.1" lengthAdjust="spacingAndGlyphs">Sarah,</text>
</g>
<!--INBOX-->
<g id="g-inbox">
<g fill="none" stroke-width="2.900" stroke-linecap="round">
<path d="M1024.500 372 L1024.500 382 M1003 377.300 L1006.900 386.200 M1046.400 377.300 L1042.700 386.200 M969.300 414.400 L978.600 418.300 M963.800 432 L973.400 432 M969.500 449.500 L978.800 445.300" stroke="#3dbf84"/>
<path d="M1071 418.300 L1079.600 414.400 M1075.500 432 L1085.500 432 M1070.500 445.500 L1079.600 449.200" stroke="#2cc3d0"/>
</g>
<circle cx="981.800" cy="391.200" r="2.100" fill="#3dbf84"/><circle cx="1067.800" cy="391.200" r="2.100" fill="#3dbf84"/>
<path d="M987.200 421 L1021.500 392 a4.500 4.500 0 0 1 6 0 L1062 421 L1062 440 L987.200 440 Z" fill="#c6d0dc" stroke="#17233f" stroke-width="1.700" stroke-linejoin="round"/>
<path d="M1005 406 L1021.500 392.800 a4.500 4.500 0 0 1 6 0 L1044 406 Z" fill="#d9e0e8"/>
<rect x="997.300" y="399.400" width="55.100" height="50" rx="3" fill="url(#gcard)" stroke="#12603a" stroke-width="1.600"/>
<path d="M1013.300 421.800 L1021.200 428.200 L1036.800 411.800" fill="none" stroke="#f4fff7" stroke-width="4.200" stroke-linecap="round" stroke-linejoin="round"/>
<path d="M987.200 421 L987.200 462.400 a4 4 0 0 0 4 4 L1058 466.400 a4 4 0 0 0 4 -4 L1062 421 L1035 441 L1027.500 436.300 a5 5 0 0 0 -6 0 L1014 441 Z" fill="#eef1f5"/>
<path d="M989 465.500 L1021.500 437.800 a4.500 4.500 0 0 1 6 0 L1060.300 465.500 Z" fill="url(#genvb)"/>
<path d="M987.200 421 L1014.300 441.300 M1062 421 L1034.800 441.300" fill="none" stroke="#17233f" stroke-width="1.500"/>
<path d="M988.500 465.300 L1021.500 437.800 a4.500 4.500 0 0 1 6 0 L1060.700 465.300" fill="none" stroke="#17233f" stroke-width="1.500" stroke-linejoin="round"/>
<path d="M987.200 421 L987.200 462.400 a4 4 0 0 0 4 4 L1058 466.400 a4 4 0 0 0 4 -4 L1062 421" fill="none" stroke="#17233f" stroke-width="1.800" stroke-linejoin="round"/>
<circle cx="1052.400" cy="403.400" r="11" fill="#2fae62" stroke="#12603a" stroke-width="1.700"/>
<path d="M1046.800 403.200 L1050.800 406.800 L1058 399.600" fill="none" stroke="#dff7e7" stroke-width="2.300" stroke-linecap="round" stroke-linejoin="round"/>
<text x="970.3" y="489.7" font-size="17.5" fill="#101010" class="b" textLength="108.7" lengthAdjust="spacingAndGlyphs">Inbox Success</text>
<circle cx="977.500" cy="509.300" r="8.600" fill="#2fbf63"/>
<path d="M973.300 509.500 L976.300 512.500 L982 506" fill="none" stroke="#fff" stroke-width="2.200" stroke-linecap="round" stroke-linejoin="round"/>
<text x="992" y="514.8" font-size="16.2" fill="#151515" textLength="47" lengthAdjust="spacingAndGlyphs">Opens:</text>
<text x="1043" y="514.8" font-size="16.2" fill="#101010" class="b" textLength="28.5" lengthAdjust="spacingAndGlyphs">85%</text>
<path d="M971.500 524.500 h12.500 a2.800 2.800 0 0 1 2.800 2.800 v7.400 a2.800 2.800 0 0 1 -2.800 2.800 h-8 l-4.200 3.600 v-3.600 h-0.300 a2.800 2.800 0 0 1 -2.800 -2.800 v-7.400 a2.800 2.800 0 0 1 2.800 -2.800z" fill="#2372d9"/>
<circle cx="973.800" cy="531" r="1.150" fill="#cfe3ff"/><circle cx="977.800" cy="531" r="1.150" fill="#cfe3ff"/><circle cx="981.800" cy="531" r="1.150" fill="#cfe3ff"/>
<text x="992" y="537.3" font-size="16.2" fill="#151515" textLength="54" lengthAdjust="spacingAndGlyphs">Replies:</text>
<text x="1049.5" y="537.3" font-size="16.2" fill="#101010" class="b" textLength="27.5" lengthAdjust="spacingAndGlyphs">18%</text>
<g stroke-linecap="round" stroke-width="2.300" fill="none"><path d="M970.300 551.500 v5" stroke="#6d8fdc"/><path d="M974.200 548.500 v11.500" stroke="#2fb7c9"/><path d="M978.100 546.500 v15.500" stroke="#3d7fe0"/><path d="M982 550 v9" stroke="#35c9a0"/><path d="M985.700 552.500 v4" stroke="#35c9a0"/></g>
<text x="992" y="559.5" font-size="16.2" fill="#151515" textLength="67" lengthAdjust="spacingAndGlyphs">Meetings:</text>
<text x="1062.5" y="559.5" font-size="16.2" fill="#101010" class="b" textLength="16.5" lengthAdjust="spacingAndGlyphs">5+</text>
</g>
<!--LAPTOPMAN-->
<g id="g-laptopman" stroke-linejoin="round" stroke-linecap="round">
<path d="M1124 419.800 L1215.500 419.800 a7.500 7.500 0 0 1 7.500 7.500 L1223 464.300 a7.500 7.500 0 0 1 -7.500 7.500 L1177 471.800 L1166.300 482.800 L1159.700 471.800 L1124 471.800 a7.500 7.500 0 0 1 -7.500 -7.500 L1116.500 427.300 a7.500 7.500 0 0 1 7.500 -7.500 Z" fill="url(#gbub)" stroke="#1e3550" stroke-width="1.400"/>
<circle cx="1143.300" cy="445.600" r="19" fill="#7db5e6"/>
<g clip-path="url(#cl-av)" stroke-linejoin="round">
<path d="M1130 466 C1131.500 452 1131 438 1135.500 432.500 C1139.500 428 1147.500 428 1151.500 432.500 C1156 438 1155.500 452 1157 466 Z" fill="#8b5b45" stroke="#251a16" stroke-width="1.100"/>
<path d="M1129.500 467 C1130 459 1135 456 1143.300 456 C1152 456 1157 459 1157.500 467 Z" fill="#3fb56c" stroke="#1b3a2a" stroke-width="1"/>
<path d="M1139.800 452 L1139.800 457 C1141.500 459.500 1145.500 459.500 1147.200 457 L1147.200 452 Z" fill="#f2b794" stroke="#251a16" stroke-width="0.800"/>
<ellipse cx="1143.500" cy="445" rx="7.300" ry="8" fill="#f7c3a2" stroke="#251a16" stroke-width="0.900"/>
<path d="M1135.800 446 C1135.500 438 1139 434.500 1144.500 434.500 C1149 434.500 1151.500 438 1151.300 444 C1149 441 1146.500 438.500 1144.500 436.200 C1142 440 1139 443.500 1135.800 446 Z" fill="#8b5b45" stroke="#251a16" stroke-width="0.700"/>
<circle cx="1141.300" cy="444.600" r="0.850" fill="#3a2a22"/><circle cx="1147" cy="444.300" r="0.850" fill="#3a2a22"/>
<path d="M1141.800 448.800 C1143.300 450.800 1146 450.600 1147.200 448.300 Z" fill="#8a3d36"/>
</g>
<path d="M1169.500 434.200 L1196.200 434.200" stroke="#2b7fd0" stroke-width="2.800"/>
<path d="M1169.500 442.400 L1214 442.400 M1169.500 449.700 L1214 449.700 M1169.500 457 L1197.500 457" stroke="#b3bcc7" stroke-width="2.500"/>
<path d="M1308.300 417 C1302 409 1302.500 396 1311 388 C1320 379.500 1334.500 379.500 1343 388.500 C1351.500 397.500 1351 411.500 1342 420 C1334.500 427 1323.500 428 1315.500 423 L1305.800 426 Z" fill="#cfe4f7" stroke="#1e3550" stroke-width="1.700"/>
<rect x="1314.300" y="400" width="6.500" height="13.500" rx="0.800" fill="#3b7cba" stroke="#1e3550" stroke-width="1"/>
<path d="M1320.800 401 C1323.500 400.500 1325.500 397 1326 392.500 C1326.200 390.300 1329.500 390.300 1330 392.800 C1330.500 395.500 1330 398 1329.300 400 L1336 400 C1338.500 400 1339 403 1337 403.800 C1338.800 404.500 1338.600 407 1336.800 407.500 C1338.200 408.300 1337.800 410.500 1336.200 411 C1337.200 412 1336.500 413.800 1334.800 413.800 L1325.500 413.800 C1323.500 413.800 1322 413.200 1320.800 412.500 Z" fill="#f5b896" stroke="#1e3550" stroke-width="1"/>
<path d="M1259.500 462.700 C1250 466.500 1242 470.500 1236.700 475.200 C1230 484 1224 500 1218.500 518.500 L1214.500 533 L1221 562.300 L1332.500 562.300 C1337 558 1338.500 553 1338.100 548.100 C1338.300 540 1338 534 1337 527.600 C1335.500 512 1332.500 497 1327.900 486.600 C1325 478 1321 472 1314.200 468.400 C1306 464 1297 460 1289.200 457 C1283 468 1266 470 1259.500 462.700 Z" fill="#5d88b7" stroke="#1b2738" stroke-width="1.500"/>
<path d="M1314.200 469.500 C1321 473 1324 479 1327 487 C1331.500 498 1334.500 513 1336 528 C1337 536 1337.200 544 1337 549 C1337.300 553 1336 557.500 1332 561.300 L1322 561.300 C1327 552 1328 540 1326 528 C1323 508 1318 490 1314.200 469.500 Z" fill="#4a74a2" opacity="0.850"/>
<path d="M1236.700 476.500 C1231 485 1225 501 1219.500 519 L1216 532 L1218 540 C1224 520 1231 498 1238 484 Z" fill="#7aa3cd" opacity="0.550"/>
<path d="M1305 477.500 C1306.500 495 1308 512 1309.700 527.600 C1310.500 532 1312 535 1314.200 536.700" fill="none" stroke="#1b2738" stroke-width="1.100"/>
<path d="M1236.700 491.200 C1237 505 1238 518 1239 530" fill="none" stroke="#1b2738" stroke-width="1.100"/>
<path d="M1269.800 542.400 C1285 541 1305 539 1323.300 536.700 C1330 536 1336 540 1337.500 547 C1338.500 553 1336.500 558.500 1332.500 562.300 L1269.800 562.300 Z" fill="#5d88b7" stroke="#1b2738" stroke-width="1.400"/>
<path d="M1272 556 C1290 557.500 1315 557 1333.500 553 C1334.500 556.500 1333.500 559.500 1331.800 561.500 L1272 561.500 Z" fill="#4a74a2" opacity="0.800"/>
<path d="M1262 445 L1259.500 462.700 C1262.500 469.500 1268 474.500 1271 474.600 C1276 474.500 1284 467 1289.200 457 L1284.500 438 Z" fill="#f0aa86" stroke="#1b2738" stroke-width="1.300"/>
<ellipse cx="1286" cy="431.300" rx="4.800" ry="6" fill="#f5b896" stroke="#1b2738" stroke-width="1.200"/>
<path d="M1240.600 412 L1240.600 428 C1240.800 436 1242.500 441.500 1244.800 445.800 C1248 452.500 1254 459.200 1260.400 459.400 C1268 459.300 1277 451.500 1281.300 443.700 C1283 438 1283.500 428 1283 420 L1276 405 L1246 406 Z" fill="#f5b896" stroke="#1b2738" stroke-width="1.300"/>
<path d="M1238.300 414.500 C1235.500 409 1235.500 402 1237.500 397.500 C1239.500 393 1243 390.500 1248 389.600 C1255 386.500 1264 386.500 1270.800 388 C1277 389 1281 392 1283.300 396.900 C1289 399.500 1292.500 403 1292.700 408.300 C1293.200 414 1291.500 419.500 1289.600 423 C1287.500 424.500 1284.500 426 1282.800 429.500 C1281.500 427 1280.800 424 1280.500 421 C1277.500 416.500 1274 412 1271.900 407.300 C1263 410 1253 411 1244.800 410.400 C1242.500 412 1241.300 414.500 1240.600 417.700 C1239.500 417 1238.800 415.800 1238.300 414.500 Z" fill="#6b4634" stroke="#1b2738" stroke-width="1.300"/>
<ellipse cx="1246.300" cy="430.200" rx="1.500" ry="2.500" fill="#1b2738"/><ellipse cx="1262.900" cy="429.600" rx="1.500" ry="2.500" fill="#1b2738"/>
<path d="M1242.500 424.700 C1245 423 1248 423 1250.500 424.200 M1259 423 C1262 421 1266 421 1269 422.700" fill="none" stroke="#1b2738" stroke-width="1.500"/>
<path d="M1253.200 429.600 C1252.500 433 1251.500 436 1250.800 438.200 C1251.500 439.600 1253.500 439.900 1255 439.500" fill="none" stroke="#1b2738" stroke-width="1.200"/>
<path d="M1249.800 445.500 C1254.500 446 1260 445 1264.800 442.500 C1264 447.500 1260.500 451.300 1257 451.300 C1253.500 451.300 1251 448.500 1249.800 445.500 Z" fill="#fff" stroke="#1b2738" stroke-width="1.100"/>
<path d="M1254 453.800 C1256 454.300 1258.500 454.200 1260.500 453.300" fill="none" stroke="#d18c6a" stroke-width="1"/>
<path d="M1122 494.600 L1198 494.600 C1200.500 494.600 1201.800 495.600 1202.500 498 L1220.800 561.800 L1137.600 561.800 L1118.500 498.500 C1117.800 496 1119 494.600 1122 494.600 Z" fill="url(#glap)" stroke="#1b2738" stroke-width="1.500"/>
<path d="M1197 496 L1199.500 496 L1218.500 560.500 L1216 560.500 Z" fill="#eef1f4" opacity="0.900"/>
<circle cx="1167.200" cy="529.200" r="6.400" fill="#fdfdfd"/>
<path d="M1220.800 557.600 L1269.800 557.600 L1269.800 562.300 L1221.500 562.300 Z" fill="#c3cbd4" stroke="#1b2738" stroke-width="0.900"/>
<path d="M1223.500 552 C1224.500 546 1229 541.500 1235 539.500 C1242 536.500 1250 535.500 1257 537 C1262 538 1266.500 540 1269.800 542.400 C1271 547 1271 552 1269.800 557.200 L1245 557.200 C1238 557.500 1230 557.300 1225 556.500 C1223.500 555.500 1223 553.800 1223.500 552 Z" fill="#f5b896" stroke="#1b2738" stroke-width="1.300"/>
<path d="M1228 556 C1230 551 1235 546.500 1241 544.500 M1233.500 556.800 C1236 552.500 1241 549 1246.500 547.500 M1239.500 557 C1242 553.500 1246 551.500 1250 551" fill="none" stroke="#1b2738" stroke-width="1"/>
<path d="M1109.400 562.800 L1351 562.800" stroke="#1b2738" stroke-width="1.700"/>
</g>
<!--TIMELINE-->
<g id="g-timeline">
<path d="M17.9 610.6 L282.7 610.6" stroke="#1f5fae" stroke-width="5.800" stroke-linecap="round" fill="none"/>
<rect x="145.8" y="606.6" width="14.100" height="8" fill="#13214d"/>
<circle cx="153" cy="610.6" r="4.400" fill="#a9d3f5"/>
<path d="M294.1 610.6 L545.7 610.6" stroke="#1d88d6" stroke-width="5.800" stroke-linecap="round" fill="none"/>
<rect x="413.0" y="606.6" width="14.100" height="8" fill="#13214d"/>
<circle cx="420.2" cy="610.6" r="4.400" fill="#4eb8f0"/>
<path d="M557.9 610.6 L822.6 610.6" stroke="#22a4e0" stroke-width="5.800" stroke-linecap="round" fill="none"/>
<rect x="680.8" y="606.6" width="14.100" height="8" fill="#13214d"/>
<circle cx="688" cy="610.6" r="4.400" fill="#3fb4ea"/>
<path d="M834.8 610.6 L1091.6 610.6" stroke="#1cc6e6" stroke-width="5.800" stroke-linecap="round" fill="none"/>
<rect x="955.8" y="606.6" width="14.100" height="8" fill="#13214d"/>
<circle cx="963" cy="610.6" r="4.400" fill="#28c2e2"/>
<path d="M1103.4 610.6 L1357.4 610.6" stroke="#1ad0e8" stroke-width="5.800" stroke-linecap="round" fill="none"/>
<rect x="1235.8" y="606.6" width="14.100" height="8" fill="#13214d"/>
<circle cx="1243" cy="610.6" r="4.400" fill="#21c4d0"/>
<rect x="178" y="676.800" width="1040" height="8" fill="url(#gconn)"/>
<text x="129.7" y="642" font-size="19.8" fill="#fff" class="b" textLength="44.5" lengthAdjust="spacingAndGlyphs">Day 1</text>
<text x="397.5" y="642" font-size="19.8" fill="#fff" class="b" textLength="45.5" lengthAdjust="spacingAndGlyphs">Day 2</text>
<text x="665.6" y="642" font-size="19.8" fill="#fff" class="b" textLength="44.7" lengthAdjust="spacingAndGlyphs">Day 4</text>
<text x="940.6" y="642" font-size="19.8" fill="#fff" class="b" textLength="44.8" lengthAdjust="spacingAndGlyphs">Day 7</text>
<text x="1214.7" y="642" font-size="19.8" fill="#fff" class="b" textLength="56.3" lengthAdjust="spacingAndGlyphs">Day 14</text>
<circle cx="152.900" cy="680.800" r="27.600" fill="#14214d" stroke="#5669b2" stroke-width="1.500"/>
<rect x="136.800" y="670.300" width="31.700" height="21.800" rx="0.800" fill="#fff"/>
<path d="M136.500 670 L151.100 683.300 a2.400 2.400 0 0 0 3.100 0 L168.800 670 M136.500 692.400 L148.300 681.500 M168.800 692.400 L157 681.500" fill="none" stroke="#14214d" stroke-width="1.900" stroke-linejoin="round"/>
<circle cx="420.200" cy="680.800" r="27.400" fill="#1279c6" stroke="#3a9fe6" stroke-width="1.500"/>
<g fill="#fff" transform="translate(406 667.200) scale(0.930 0.846) translate(-912.800 -232.400)"><circle cx="916.400" cy="236.400" r="4"/><rect x="912.800" y="242.600" width="7.300" height="21.600"/><path d="M923.750 242.600 h6.900 v2.900 c1.300 -2.200 3.600 -3.500 6.600 -3.500 c5.300 0 7.550 3.300 7.550 8.700 v13.500 h-7.300 v-12 c0 -2.600 -0.900 -4.200 -3.200 -4.200 c-2.400 0 -3.650 1.700 -3.650 4.400 v11.800 h-6.900z"/></g>
<circle cx="688" cy="680.700" r="27.300" fill="#1371d2" stroke="#3b9af0" stroke-width="1.500"/>
<path d="M677.400 668.700 h21.100 a4.500 4.500 0 0 1 4.500 4.500 v11.200 a4.500 4.500 0 0 1 -4.500 4.500 h-12.500 l-6.700 6.400 v-6.400 h-1.900 a4.500 4.500 0 0 1 -4.500 -4.500 v-11.200 a4.500 4.500 0 0 1 4.500 -4.500z" fill="#fff"/>
<path d="M679.500 676.100 L696.700 676.100 M679.500 681.900 L691 681.900" stroke="#1371d2" stroke-width="2.300" stroke-linecap="round"/>
<circle cx="963" cy="680.700" r="27.800" fill="#1fcbe0"/>
<g fill="none" stroke="#fff" stroke-linecap="round" stroke-linejoin="round"><path d="M953.200 670.200 L955.200 676.300" stroke-width="8.200"/><path d="M970.800 687.600 L976.300 690.600" stroke-width="8.200"/><path d="M954.300 674 C955.500 683.500 963 691.500 973.500 690.300" stroke-width="5.600"/></g>
<circle cx="1243" cy="681" r="28.100" fill="url(#ggreen)" filter="url(#sh4)"/>
<path d="M1228.500 682 L1238.300 691.300 L1257.300 670.700" fill="none" stroke="#fff" stroke-width="5.200" stroke-linecap="round" stroke-linejoin="round"/>
<text x="130.2" y="731.500" font-size="19" fill="#fff" textLength="44.8" lengthAdjust="spacingAndGlyphs" stroke="#fff" stroke-width="0.350">Email</text>
<text x="104.2" y="750.800" font-size="15.600" fill="#cdd3e3" textLength="97.2" lengthAdjust="spacingAndGlyphs">(personalized)</text>
<text x="337.2" y="731.500" font-size="19" fill="#fff" textLength="166.3" lengthAdjust="spacingAndGlyphs" stroke="#fff" stroke-width="0.350">LinkedIn connection</text>
<text x="400.9" y="750.800" font-size="15.600" fill="#cdd3e3" textLength="39.1" lengthAdjust="spacingAndGlyphs">(sent)</text>
<text x="636.8" y="731.500" font-size="19" fill="#fff" textLength="102.3" lengthAdjust="spacingAndGlyphs" stroke="#fff" stroke-width="0.350">LinkedIn DM</text>
<text x="615" y="750.800" font-size="15.600" fill="#cdd3e3" textLength="145.9" lengthAdjust="spacingAndGlyphs">(follow-up with value)</text>
<text x="927.8" y="731.500" font-size="19" fill="#fff" textLength="71" lengthAdjust="spacingAndGlyphs" stroke="#fff" stroke-width="0.350">Cold call</text>
<text x="921.4" y="750.800" font-size="15.600" fill="#cdd3e3" textLength="83.1" lengthAdjust="spacingAndGlyphs">(touchpoint)</text>
<text x="1174" y="731.500" font-size="19" fill="#86dcae" textLength="138" lengthAdjust="spacingAndGlyphs" stroke="#86dcae" stroke-width="0.350">Meeting booked!</text>
<rect x="1197.2" y="623.2" width="4" height="7" rx="0.8" fill="#f0c75e" transform="rotate(-10 1199.2 626.7)"/>
<rect x="1163.8" y="667.1" width="5.5" height="4" rx="2" fill="#f0c75e" transform="rotate(0 1166.6 669.1)"/>
<rect x="1176.2" y="662.0" width="5.5" height="3" rx="1.2" fill="#4cb87a" transform="rotate(20 1179 663.5)"/>
<rect x="1198.8" y="660.6" width="7.5" height="3.6" rx="0.8" fill="#e05a6e" transform="rotate(-32 1202.5 662.4)"/>
<rect x="1187.3" y="690.4" width="4.5" height="3.2" rx="1" fill="#4cb87a" transform="rotate(20 1189.6 692)"/>
<rect x="1153.7" y="697.5" width="7" height="3" rx="1.2" fill="#b8d86a" transform="rotate(-42 1157.2 699)"/>
<rect x="1178.0" y="704.2" width="7.5" height="3.6" rx="0.8" fill="#e05a6e" transform="rotate(-25 1181.7 706)"/>
<circle cx="1154.400" cy="647" r="1.600" fill="#5aaae8"/>
<path d="M1170.500 632 C1169.500 636 1172.500 638.500 1176.500 637 C1181 635.500 1184 637.500 1183 642 C1182 646.500 1184 650 1188.500 649 C1192 648.500 1194 650 1195.500 652.500" fill="none" stroke="#5aaae8" stroke-width="2.600" stroke-linecap="round"/>
<rect x="1287.0" y="624.5" width="8" height="3.6" rx="0.8" fill="#6ab4ee" transform="rotate(-10 1291 626.3)"/>
<rect x="1278.2" y="647.4" width="6.5" height="3.6" rx="0.8" fill="#4cb87a" transform="rotate(-42 1281.5 649.2)"/>
<rect x="1327.2" y="656.6" width="6.5" height="3.6" rx="0.8" fill="#5aaae8" transform="rotate(-42 1330.5 658.4)"/>
<rect x="1291.8" y="668.2" width="7.5" height="3.6" rx="0.8" fill="#e05a6e" transform="rotate(-32 1295.5 670)"/>
<rect x="1290.8" y="693.2" width="7.5" height="4" rx="0.8" fill="#6ab4ee" transform="rotate(40 1294.6 695.2)"/>
<rect x="1322.2" y="703.7" width="7.5" height="3.6" rx="0.8" fill="#e05a6e" transform="rotate(40 1326 705.5)"/>
<path d="M1295.500 656 C1299 654 1304 656 1306.500 653 C1309 649.500 1304.500 645 1307 641.500 C1310 637.500 1316 641.500 1319.500 638.500 C1322 636 1320 633.500 1321.500 631.500" fill="none" stroke="#f2c662" stroke-width="3" stroke-linecap="round"/>
<path d="M1306.500 676 C1310 674 1314 676.500 1314.500 680.500 C1315 684.500 1318.500 685.500 1320.500 682.500 C1322.500 679 1327 678.500 1329 682 C1330.500 684.500 1331 686.500 1331.800 688.500" fill="none" stroke="#3fae6f" stroke-width="2.600" stroke-linecap="round"/>
</g>
</svg>
</body>
</html>
